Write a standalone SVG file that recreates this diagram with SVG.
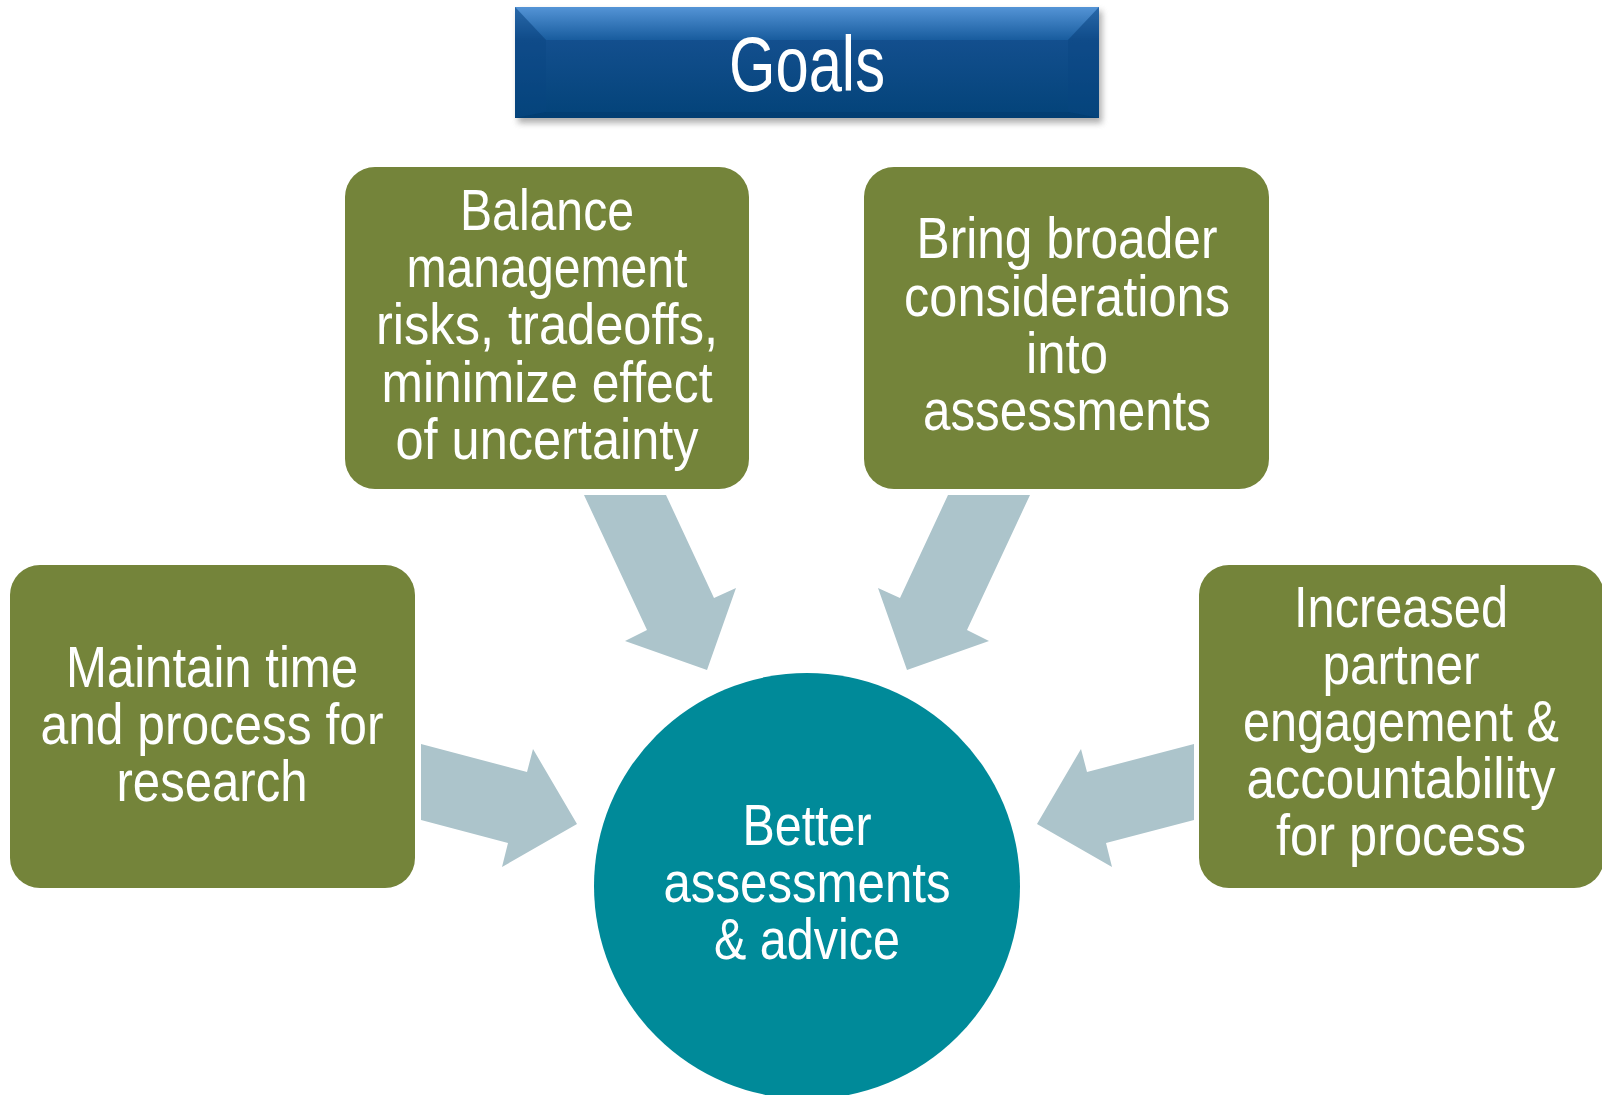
<svg xmlns="http://www.w3.org/2000/svg" width="1602" height="1095" viewBox="0 0 1602 1095">
  <defs>
    <linearGradient id="gMain" x1="0" y1="0" x2="0" y2="1">
      <stop offset="0" stop-color="#3b7cc0"/>
      <stop offset="0.3" stop-color="#134f8e"/>
      <stop offset="1" stop-color="#034379"/>
    </linearGradient>
    <linearGradient id="gTop" x1="0" y1="0" x2="0" y2="1">
      <stop offset="0" stop-color="#5494d6"/>
      <stop offset="1" stop-color="#185c9e"/>
    </linearGradient>
    <filter id="shadow" x="-10%" y="-30%" width="120%" height="160%">
      <feGaussianBlur stdDeviation="3"/>
    </filter>
    <style>
      .box { fill: #74843a; }
      .arrow { fill: #acc4cb; }
      .t { font-family: "Liberation Sans Narrow", "Liberation Sans", Arial, sans-serif; font-size: 57px; fill: #ffffff; text-anchor: middle; }
      .title { font-family: "Liberation Sans Narrow", "Liberation Sans", Arial, sans-serif; font-size: 78px; fill: #ffffff; text-anchor: middle; }
    </style>
  </defs>
  <rect width="1602" height="1095" fill="#ffffff"/>

  <g id="goals">
    <rect x="518" y="11" width="584" height="112" fill="#777" opacity="0.6" filter="url(#shadow)"/>
    <rect x="515" y="7" width="584" height="111" fill="url(#gMain)"/>
    <polygon points="515,7 1099,7 1068,40 546,40" fill="url(#gTop)"/>
    <polygon points="515,7 546,40 546,112 515,118" fill="#0a4680" opacity="0.35"/>
    <polygon points="1099,7 1068,40 1068,112 1099,118" fill="#0a4680" opacity="0.35"/>
    <polygon points="515,118 546,112 1068,112 1099,118" fill="#023a6c" opacity="0.5"/>
    <text class="title" x="807" y="91" textLength="156" lengthAdjust="spacingAndGlyphs">Goals</text>
  </g>

  <g id="connectors">
    <polygon class="arrow" points="584,495 666,495 714,598 736,588 707,670 625,641 647,630"/>
    <polygon class="arrow" points="1030,495 948,495 900,598 878,588 907,670 989,641 967,630"/>
    <polygon class="arrow" points="421,744 527,772 533,749 577,824 502,867 508,843 421,820"/>
    <polygon class="arrow" points="1194,744 1087,772 1081,749 1037,824 1112,867 1106,843 1194,820"/>
  </g>

  <g id="balance">
    <rect class="box" x="345" y="167" width="404" height="322" rx="30" ry="30"/>
    <text class="t" x="547" y="230" textLength="174" lengthAdjust="spacingAndGlyphs">Balance</text>
    <text class="t" x="547" y="287" textLength="281" lengthAdjust="spacingAndGlyphs">management</text>
    <text class="t" x="547" y="344" textLength="342" lengthAdjust="spacingAndGlyphs">risks, tradeoffs,</text>
    <text class="t" x="547" y="402" textLength="331" lengthAdjust="spacingAndGlyphs">minimize effect</text>
    <text class="t" x="547" y="459" textLength="303" lengthAdjust="spacingAndGlyphs">of uncertainty</text>
  </g>

  <g id="broader">
    <rect class="box" x="864" y="167" width="405" height="322" rx="30" ry="30"/>
    <text class="t" x="1067" y="258" textLength="301" lengthAdjust="spacingAndGlyphs">Bring broader</text>
    <text class="t" x="1067" y="316" textLength="326" lengthAdjust="spacingAndGlyphs">considerations</text>
    <text class="t" x="1067" y="373" textLength="82" lengthAdjust="spacingAndGlyphs">into</text>
    <text class="t" x="1067" y="430" textLength="288" lengthAdjust="spacingAndGlyphs">assessments</text>
  </g>

  <g id="maintain">
    <rect class="box" x="10" y="565" width="405" height="323" rx="30" ry="30"/>
    <text class="t" x="212" y="687" textLength="292" lengthAdjust="spacingAndGlyphs">Maintain time</text>
    <text class="t" x="212" y="744" textLength="343" lengthAdjust="spacingAndGlyphs">and process for</text>
    <text class="t" x="212" y="801" textLength="191" lengthAdjust="spacingAndGlyphs">research</text>
  </g>

  <g id="partner">
    <rect class="box" x="1199" y="565" width="405" height="323" rx="30" ry="30"/>
    <text class="t" x="1401" y="627" textLength="214" lengthAdjust="spacingAndGlyphs">Increased</text>
    <text class="t" x="1401" y="684" textLength="157" lengthAdjust="spacingAndGlyphs">partner</text>
    <text class="t" x="1401" y="741" textLength="316" lengthAdjust="spacingAndGlyphs">engagement &amp;</text>
    <text class="t" x="1401" y="798" textLength="309" lengthAdjust="spacingAndGlyphs">accountability</text>
    <text class="t" x="1401" y="855" textLength="250" lengthAdjust="spacingAndGlyphs">for process</text>
  </g>

  <g id="outcome">
    <circle cx="807" cy="886" r="213" fill="#008a99"/>
    <text class="t" x="807" y="845" textLength="129" lengthAdjust="spacingAndGlyphs">Better</text>
    <text class="t" x="807" y="902" textLength="287" lengthAdjust="spacingAndGlyphs">assessments</text>
    <text class="t" x="807" y="959" textLength="186" lengthAdjust="spacingAndGlyphs">&amp; advice</text>
  </g>
</svg>
